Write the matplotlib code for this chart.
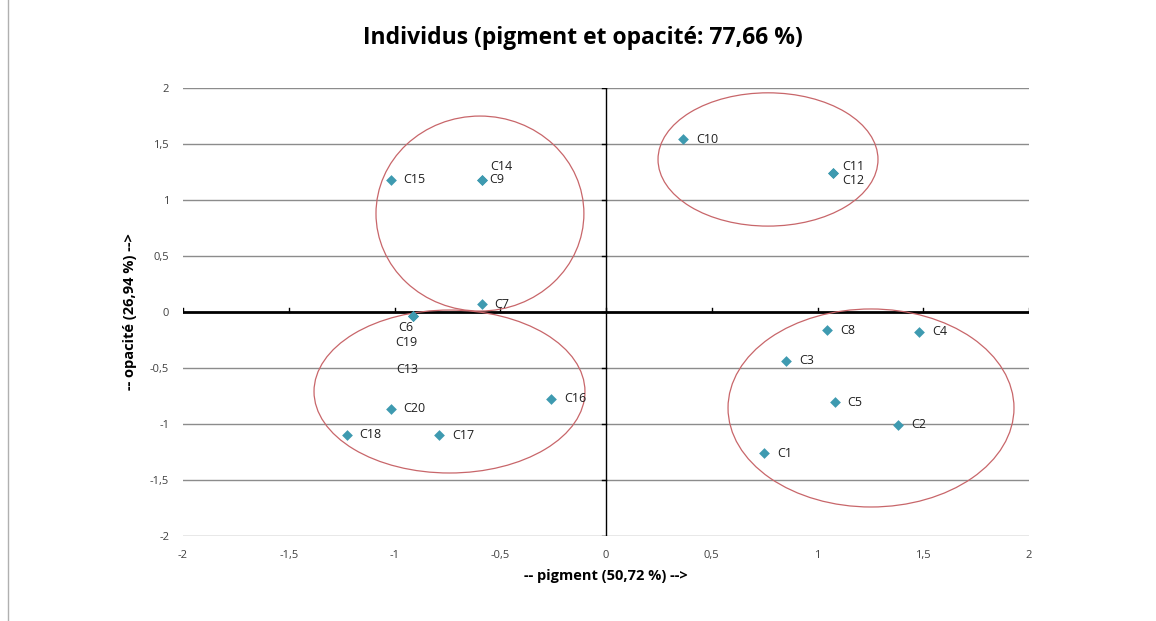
import matplotlib.pyplot as plt
from matplotlib.patches import Ellipse
from matplotlib.lines import Line2D

# individus (coordonnees)
names = ['C1', 'C2', 'C3', 'C4', 'C5', 'C6', 'C7', 'C8', 'C9', 'C10',
         'C11', 'C12', 'C13', 'C14', 'C15', 'C16', 'C17', 'C18', 'C19', 'C20']
pigment = [0.748, 1.381, 0.851, 1.481, 1.081, -0.914, -0.588, 1.045, -0.588, 0.363,
           1.072, 1.072, -0.914, -0.588, -1.018, -0.261, -0.790, -1.226, -0.914, -1.018]
opacite = [-1.262, -1.006, -0.435, -0.176, -0.804, -0.036, 0.071, -0.163, 1.179, 1.542,
           1.244, 1.244, -0.036, 1.179, 1.179, -0.774, -1.101, -1.096, -0.036, -0.866]

# groupes entoures a la main
ell_cx = [-0.596, 0.766, -0.740, 1.253]
ell_cy = [0.879, 1.362, -0.710, -0.857]
ell_w = [0.983, 1.040, 1.281, 1.352]
ell_h = [1.741, 1.190, 1.455, 1.768]

ticks = [-2, -1.5, -1, -0.5, 0, 0.5, 1, 1.5, 2]

# label offsets (pixels) where Excel moved them
offsets = {'C9': (8, 0, 'left'), 'C14': (9, 13, 'left'),
           'C11': (10, 6, 'left'), 'C12': (10, -8, 'left'),
           'C6': (-7, -11, 'center'), 'C19': (-6, -26, 'center'),
           'C13': (-5, -53, 'center')}

plt.rcParams['font.family'] = ['Open Sans', 'DejaVu Sans']

fig = plt.figure(figsize=(11.56, 6.21), dpi=100)
ax = fig.add_axes([183 / 1156, 1 - 536 / 621, 846 / 1156, 448 / 621])

ax.set_xlim(-2, 2)
ax.set_ylim(-2, 2)

for t in ticks:
    if t != 0:
        ax.axhline(t, color='#8c8c8c', lw=1, zorder=1)
ax.axhline(0, color='black', lw=2, zorder=2)
ax.axvline(0, color='black', lw=1, zorder=2)

# small tick marks on the axes through zero
for t in ticks:
    ax.plot([t, t], [0, 0.035], color='black', lw=1, zorder=2)
    ax.plot([-0.02, 0], [t, t], color='black', lw=1, zorder=2)

for cx, cy, w, h in zip(ell_cx, ell_cy, ell_w, ell_h):
    ax.add_patch(Ellipse((cx, cy), w, h, fill=False, edgecolor='#c8666a',
                         lw=0.9, zorder=3))

ax.scatter(pigment, opacite, marker='D', s=30, color='#3e9ab0', zorder=4,
           linewidths=0)

for n, x, y in zip(names, pigment, opacite):
    dx, dy, ha = offsets.get(n, (13, 0, 'left'))
    ax.annotate(n, (x, y), xytext=(dx * 0.72, dy * 0.72), textcoords='offset points',
                ha=ha, va='center', fontsize=9, color='#202020', zorder=5)

ax.set_xticks(ticks)
ax.set_yticks(ticks)
lab = [('%g' % t).replace('.', ',') for t in ticks]
ax.set_xticklabels(lab)
ax.set_yticklabels(lab)
ax.tick_params(length=0, labelsize=8, colors='#404040', pad=10)
for s in ax.spines.values():
    s.set_visible(False)

ax.set_xlabel('-- pigment (50,72 %) -->', fontsize=10.5, fontweight='bold', labelpad=6)
ax.set_ylabel('-- opacité (26,94 %) -->', fontsize=10.5, fontweight='bold', labelpad=9)
fig.text(583 / 1156, 1 - 38 / 621, 'Individus (pigment et opacité: 77,66 %)',
         ha='center', va='center', fontsize=16.5, fontweight='bold')

fig.add_artist(Line2D([8 / 1156, 8 / 1156], [0, 1], color='#b0b0b0', lw=1))

plt.savefig('out.png', dpi=100)
